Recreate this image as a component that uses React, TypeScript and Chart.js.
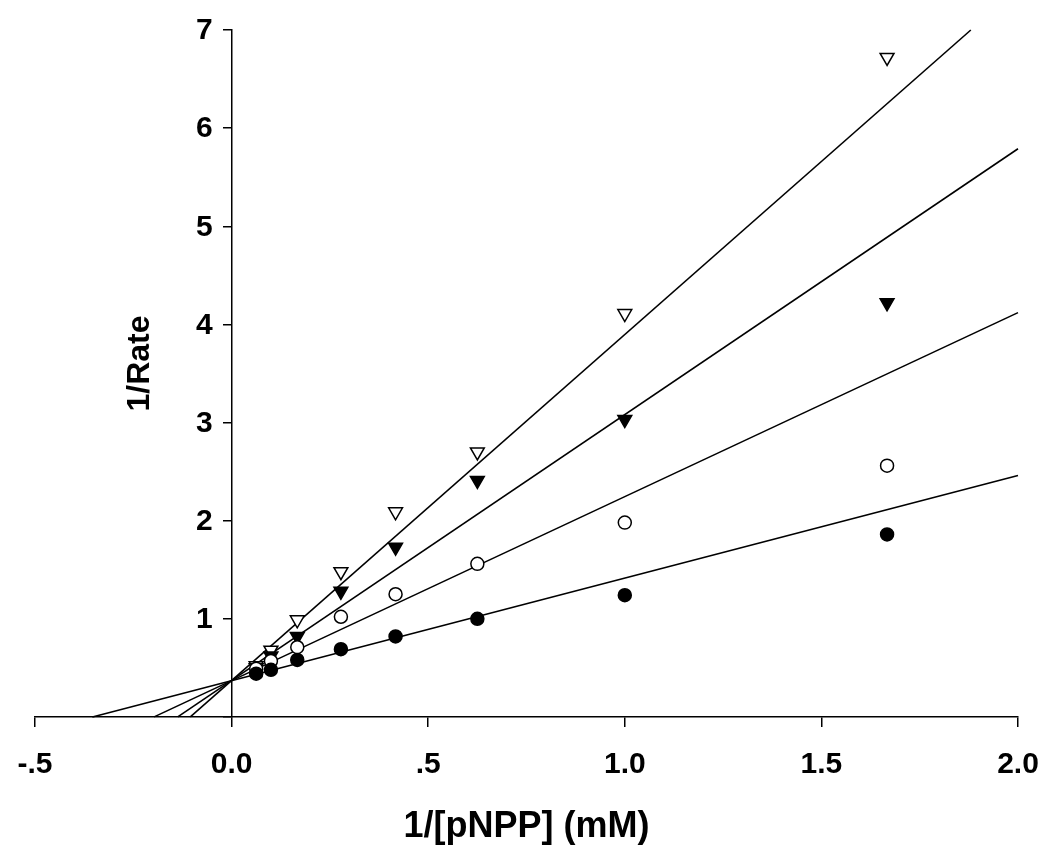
import React, { useEffect, useRef } from "react";
import { Chart, registerables } from "chart.js";

Chart.register(...registerables);

// 1/[pNPP] (mM^-1)
const xValues = [0.0625, 0.1, 0.167, 0.278, 0.417, 0.625, 1.0, 1.667];
// 1/Rate for each series
const seriesFilledCircle = [0.44, 0.48, 0.58, 0.69, 0.82, 1.0, 1.24, 1.86];
const seriesOpenCircle = [0.49, 0.57, 0.71, 1.02, 1.25, 1.56, 1.98, 2.56];
const seriesFilledTriangle = [0.5, 0.62, 0.82, 1.28, 1.73, 2.41, 3.03, 4.22];
const seriesOpenTriangle = [0.52, 0.68, 0.99, 1.48, 2.09, 2.7, 4.11, 6.72];

// fitted lines: start at x-intercept (y = 0), end at right/top edge
const fitStartX = [-0.354, -0.197, -0.137, -0.105];
const fitEndX = [2.0, 2.0, 2.0, 1.88];
const fitEndY = [2.46, 4.12, 5.79, 7.0];

const xTickValues = [-0.5, 0, 0.5, 1.0, 1.5, 2.0];
const xTickLabels = ["-.5", "0.0", ".5", "1.0", "1.5", "2.0"];
const yTickValues = [1, 2, 3, 4, 5, 6, 7];
const yTickLabels = ["1", "2", "3", "4", "5", "6", "7"];

const xTitle = "1/[pNPP] (mM)";
const yTitle = "1/Rate";

const FONT = "'Liberation Sans', Arial, Helvetica, sans-serif";

export default function App() {
  const ref = useRef<HTMLCanvasElement | null>(null);

  useEffect(() => {
    if (!ref.current) return;
    const pts = (ys: number[]) => xValues.map((x, i) => ({ x, y: ys[i] }));
    const markerStyles = [
      { data: seriesFilledCircle, style: "circle", fill: "#000", rot: 0, r: 6.5 },
      { data: seriesOpenCircle, style: "circle", fill: "#fff", rot: 0, r: 6.5 },
      { data: seriesFilledTriangle, style: "triangle", fill: "#000", rot: 180, r: 8 },
      { data: seriesOpenTriangle, style: "triangle", fill: "#fff", rot: 180, r: 8 },
    ];
    const pointSets = markerStyles.map((m) => ({
      type: "scatter" as const,
      data: pts(m.data),
      pointStyle: m.style,
      pointRadius: m.r,
      pointRotation: m.rot,
      pointBackgroundColor: m.fill,
      pointBorderColor: "#000",
      pointBorderWidth: 1.5,
      showLine: false,
      clip: false,
      order: 0,
    }));
    const lineSets = fitStartX.map((x0, i) => ({
      type: "scatter" as const,
      data: [
        { x: x0, y: 0 },
        { x: fitEndX[i], y: fitEndY[i] },
      ],
      showLine: true,
      borderColor: "#000",
      borderWidth: 1.6,
      pointRadius: 0,
      clip: false,
      order: 1,
    }));

    const yAxisTextPlugin = {
      id: "yAxisText",
      afterDraw(chart: any) {
        const { ctx, chartArea, scales } = chart;
        const x0 = scales.x.getPixelForValue(0);
        ctx.save();
        ctx.fillStyle = "#000";
        ctx.font = `bold 30px ${FONT}`;
        ctx.textAlign = "right";
        ctx.textBaseline = "middle";
        yTickValues.forEach((v, i) => {
          ctx.fillText(yTickLabels[i], x0 - 19, scales.y.getPixelForValue(v) + 1);
        });
        ctx.font = `bold 32px ${FONT}`;
        ctx.textAlign = "center";
        ctx.translate(140, (chartArea.top + chartArea.bottom) / 2 - 10);
        ctx.rotate(-Math.PI / 2);
        ctx.fillText(yTitle, 0, 0);
        ctx.restore();
      },
    };

    const chart = new Chart(ref.current, {
      type: "scatter",
      data: { datasets: [...pointSets, ...lineSets] as any },
      options: {
        animation: false,
        responsive: false,
        maintainAspectRatio: false,
        layout: { padding: { left: 35, right: 32, top: 30, bottom: 14 } },
        plugins: { legend: { display: false }, tooltip: { enabled: false } },
        scales: {
          x: {
            type: "linear",
            position: "bottom",
            min: -0.5,
            max: 2.0,
            afterBuildTicks: (axis: any) => {
              axis.ticks = xTickValues.map((v) => ({ value: v }));
            },
            ticks: {
              callback: (v: any) => {
                const i = xTickValues.findIndex((t) => Math.abs(t - Number(v)) < 1e-9);
                return i >= 0 ? xTickLabels[i] : "";
              },
              color: "#000",
              font: { family: FONT, size: 30, weight: "bold", lineHeight: 2.53 },
              padding: 0,
              maxRotation: 0,
              autoSkip: false,
            },
            grid: {
              drawOnChartArea: false,
              drawTicks: true,
              tickLength: 10,
              color: "#000",
              lineWidth: 1.5,
            },
            border: { display: true, color: "#000", width: 1.5 },
            title: {
              display: true,
              text: xTitle,
              color: "#000",
              font: { family: FONT, size: 36, weight: "bold", lineHeight: 1.2 },
              padding: { top: 3, bottom: 0 },
            },
          },
          y: {
            type: "linear",
            position: { x: 0 } as any,
            min: 0,
            max: 7,
            ticks: {
              stepSize: 1,
              display: false,
            },
            grid: {
              drawOnChartArea: false,
              drawTicks: true,
              tickLength: 8,
              color: "#000",
              lineWidth: 1.5,
            },
            border: { display: true, color: "#000", width: 1.5 },
          },
        },
      },
      plugins: [yAxisTextPlugin],
    });
    return () => chart.destroy();
  }, []);

  return (
    <div style={{ position: "fixed", left: 0, top: 0, width: 1050, height: 863, background: "#fff" }}>
      <canvas ref={ref} width={1050} height={863} style={{ width: 1050, height: 863, display: "block" }} />
    </div>
  );
}
